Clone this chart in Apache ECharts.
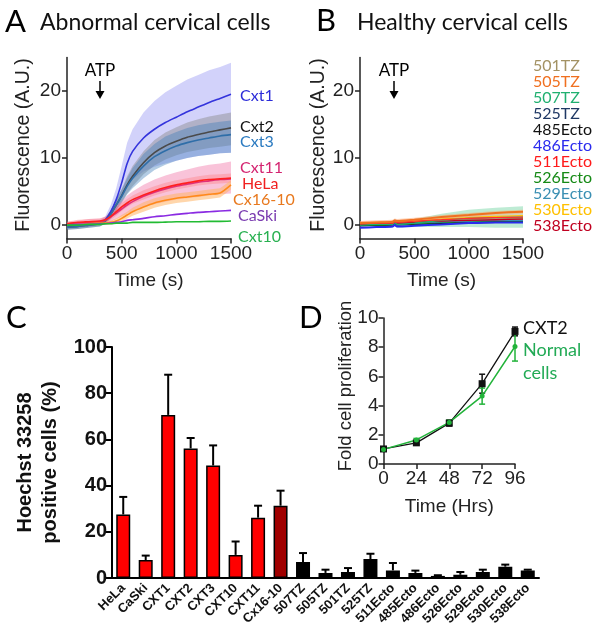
<!DOCTYPE html>
<html><head><meta charset="utf-8">
<script src="https://cdn.jsdelivr.net/npm/echarts@6/dist/echarts.min.js"></script>
<style>html,body{margin:0;padding:0;background:#fff}#c{width:602px;height:636px}</style>
</head><body><div id="c"></div>
<script>
// ---------- Panel A: abnormal cervical cells (time in s) ----------
const timeA = [0,100,200,300,350,400,450,500,550,600,700,800,900,1000,1100,1200,1300,1400,1500];
const cxt1Mean = [-0.2,-0.1,0.1,0.3,0.8,2.0,3.8,6.3,9.2,11.0,13.0,14.3,15.3,16.1,16.9,17.6,18.3,18.9,19.5];
const cxt1Hi   = [0.2,0.3,0.5,0.7,1.3,3.0,5.5,8.8,12.3,14.3,16.8,18.5,19.8,20.8,21.7,22.4,23.1,23.6,24.2];
const cxt1Lo   = [-0.6,-0.5,-0.3,-0.1,0.3,1.0,2.2,3.8,5.5,6.8,8.0,8.7,9.2,9.6,10.0,10.3,10.5,10.7,10.8];
const cxt2Mean = [-0.3,-0.2,0,0.2,0.6,1.6,3.0,4.4,6.0,7.3,9.3,10.8,11.8,12.5,13.1,13.5,13.9,14.2,14.5];
const cxt2Hi   = [0.1,0.2,0.4,0.6,1.0,2.2,3.8,5.4,7.3,8.8,11.0,12.7,13.8,14.6,15.3,15.8,16.2,16.5,16.8];
const cxt2Lo   = [-0.7,-0.6,-0.4,-0.2,0.2,1.0,2.2,3.4,4.7,5.8,7.6,8.9,9.8,10.4,10.9,11.2,11.5,11.7,11.9];
const cxt3Mean = [-0.3,-0.2,0,0.2,0.6,1.6,3.0,4.3,5.8,7.0,8.8,10.2,11.1,11.8,12.3,12.7,13.0,13.3,13.5];
const cxt3Hi   = [0.1,0.2,0.4,0.6,1.0,2.2,3.8,5.3,7.0,8.5,10.6,12.1,13.2,13.9,14.5,14.9,15.2,15.4,15.6];
const cxt3Lo   = [-0.7,-0.6,-0.4,-0.2,0.2,1.0,2.2,3.3,4.6,5.5,7.0,8.2,9.0,9.6,10.0,10.3,10.5,10.7,10.8];
const cxt11Mean = [0.1,0.3,0.4,0.5,0.7,1.2,1.8,2.4,3.0,3.5,4.3,4.9,5.4,5.8,6.1,6.4,6.6,6.8,6.9];
const cxt11Hi   = [0.5,0.7,0.9,1.0,1.3,2.0,2.8,3.6,4.4,5.0,6.0,6.8,7.4,7.9,8.3,8.7,9.0,9.2,9.5];
const cxt11Lo   = [-0.3,-0.1,0,0.1,0.2,0.5,0.9,1.3,1.7,2.1,2.7,3.1,3.5,3.8,4.0,4.2,4.4,4.6,4.7];
const helaMean = [0.2,0.4,0.5,0.6,0.8,1.3,2.0,2.7,3.3,3.8,4.5,5.1,5.6,6.0,6.3,6.6,6.8,6.9,7.0];
const helaHi   = [0.5,0.8,0.9,1.0,1.2,1.8,2.6,3.3,3.9,4.4,5.2,5.8,6.3,6.7,7.0,7.3,7.5,7.6,7.7];
const helaLo   = [-0.1,0,0.1,0.2,0.4,0.8,1.4,2.1,2.7,3.2,3.8,4.4,4.9,5.3,5.6,5.9,6.1,6.2,6.3];
const cx1610Mean = [0,0.1,0.2,0.3,0.3,0.4,0.6,1.0,1.5,2.0,2.7,3.3,3.7,4.0,4.2,4.4,4.6,4.8,6.0];
const cx1610Hi   = [0.3,0.4,0.5,0.6,0.6,0.7,1.0,1.5,2.0,2.6,3.4,4.0,4.4,4.7,4.9,5.1,5.3,5.5,6.7];
const cx1610Lo   = [-0.3,-0.2,-0.1,0,0,0.1,0.2,0.5,1.0,1.4,2.0,2.6,3.0,3.3,3.5,3.7,3.9,4.1,5.3];
const caskiMean = [0,0.1,0.1,0.2,0.2,0.3,0.4,0.5,0.7,0.8,1.0,1.25,1.4,1.6,1.75,1.9,2.0,2.1,2.2];
const cxt10Mean = [0,0,0.1,0.1,0.2,0.2,0.3,0.3,0.3,0.4,0.4,0.4,0.45,0.5,0.5,0.5,0.55,0.55,0.6];
const fluorTicks = [0,10,20];

// ---------- Panel B: healthy cervical cells ----------
const timeB = [0,150,300,320,340,500,750,1000,1250,1500];
const tz505Mean = [0.3,0.4,0.5,0.7,0.6,0.8,1.2,1.5,1.8,2.0];
const tz505Hi   = [0.6,0.7,0.8,1.0,0.9,1.1,1.5,1.8,2.1,2.3];
const tz505Lo   = [0,0.1,0.2,0.4,0.3,0.5,0.9,1.2,1.5,1.7];
const tz507Mean = [0,0.1,0.1,0.4,0.1,0.3,0.7,1.0,1.1,1.2];
const tz507Hi   = [0.3,0.5,0.6,0.9,0.6,0.9,1.7,2.3,2.6,2.8];
const tz507Lo   = [-0.3,-0.3,-0.4,-0.1,-0.4,-0.3,-0.3,-0.3,-0.4,-0.4];
const ecto511Mean = [0.2,0.3,0.3,0.5,0.4,0.6,0.8,1.0,1.1,1.2];
const ecto511Hi   = [0.6,0.7,0.7,0.9,0.8,1.0,1.2,1.4,1.5,1.6];
const ecto511Lo   = [-0.2,-0.1,-0.1,0.1,0,0.2,0.4,0.6,0.7,0.8];
const tz501Mean = [0.2,0.3,0.3,0.5,0.4,0.5,0.7,0.8,0.9,1.0];
const tz525Mean = [-0.1,0,0,0.3,0,0.1,0.2,0.3,0.4,0.4];
const ecto485Mean = [0,0,0.1,0.6,0.1,0.2,0.3,0.4,0.5,0.5];
const ecto486Mean = [-0.4,-0.3,-0.2,0,-0.2,-0.1,0.1,0.3,0.4,0.4];
const ecto526Mean = [0,0,0.1,0.5,0.1,0.2,0.4,0.5,0.6,0.6];
const ecto529Mean = [0.1,0.1,0.2,0.4,0.2,0.3,0.5,0.6,0.7,0.7];
const ecto530Mean = [0.3,0.4,0.4,0.6,0.5,0.6,0.9,1.1,1.3,1.4];
const ecto538Mean = [0.1,0.2,0.2,0.4,0.3,0.4,0.6,0.7,0.8,0.9];

// ---------- Panel C: Hoechst 33258 positive cells (%) ----------
const catsC = ['HeLa','CaSki','CXT1','CXT2','CXT3','CXT10','CXT11','Cx16-10','507TZ','505TZ','501TZ','525TZ','511Ecto','485Ecto','486Ecto','526Ecto','529Ecto','530Ecto','538Ecto'];
const valsC = [27.5,7.8,70.6,56.1,48.7,10.0,26.1,31.3,6.9,2.2,2.6,8.2,3.3,2.2,0.9,1.4,2.6,4.9,3.3];
const errC  = [7.6,1.9,17.4,4.5,8.7,5.8,5.2,6.5,3.9,1.4,1.7,2.3,3.2,1.0,0.3,1.2,1.0,0.9,0.3];
const groupC = ['tumour','tumour','tumour','tumour','tumour','tumour','tumour','line','normal','normal','normal','normal','normal','normal','normal','normal','normal','normal','normal'];

// ---------- Panel D: fold cell proliferation ----------
const hoursD = [0,24,48,72,96];
const cxt2Fold = [1.03,1.45,2.8,5.5,9.08];
const cxt2FoldErr = [0.08,0.1,0.2,0.65,0.3];
const normalFold = [1.0,1.65,2.85,4.65,8.05];
const normalFoldErr = [0.05,0.1,0.15,0.55,1.0];

// ---------------------------------------------------------------------
const AX_FONT = '"Liberation Sans", Arial, sans-serif';
const LBL_FONT = 'Lato, "Open Sans", sans-serif';
const pairs = (t, v) => t.map((x, i) => [x, v[i]]);
const plain = v => String(v);

function band(t, lo, hi, color, opacity, ax) {
  return { type:'custom', xAxisIndex:ax, yAxisIndex:ax, silent:true, z:1,
    data: t.map((x, i) => [x, lo[i], hi[i]]),
    encode:{ x:0, y:[1, 2] },
    renderItem: function (params, api) {
      if (params.dataIndex !== 0) return null;
      const up = t.map((x, i) => api.coord([x, hi[i]]));
      const dn = t.map((x, i) => api.coord([x, lo[i]])).reverse();
      return { type:'polygon', shape:{ points: up.concat(dn) }, style:{ fill:color, opacity:opacity } };
    } };
}
function meanLine(name, t, v, color, ax, w) {
  return { type:'line', name:name, xAxisIndex:ax, yAxisIndex:ax, data:pairs(t, v),
    symbol:'none', smooth:0.25, lineStyle:{color:color, width:w||1.6}, z:3 };
}

function fluorAxes(idx) {
  const x = { type:'value', gridIndex:idx, min:0, max:1500, interval:500,
    name:'Time (s)', nameLocation:'middle', nameGap:33,
    nameTextStyle:{fontFamily:AX_FONT, fontSize:19, color:'#222'},
    axisLine:{onZero:false, lineStyle:{color:'#222', width:1.5}},
    axisTick:{inside:false, length:5, lineStyle:{color:'#222', width:1.5}},
    axisLabel:{fontFamily:AX_FONT, fontSize:19, color:'#222', margin:6, formatter:plain},
    splitLine:{show:false} };
  const y = { type:'value', gridIndex:idx, min:-2, max:25,
    name:'Fluorescence (A.U.)', nameLocation:'middle', nameGap:idx===0?33:30,
    nameTextStyle:{fontFamily:AX_FONT, fontSize:19.5, color:'#222', padding:[0,0,0,6]},
    axisLine:{show:true, onZero:false, lineStyle:{color:'#222', width:1.5}},
    axisTick:{show:true, inside:false, length:5, customValues:fluorTicks, lineStyle:{color:'#222', width:1.5}},
    axisLabel:{fontFamily:AX_FONT, fontSize:19, color:'#222', margin:6, customValues:fluorTicks, formatter:plain},
    splitLine:{show:false} };
  return [x, y];
}
const [xA, yA] = fluorAxes(0);
const [xB, yB] = fluorAxes(1);

const xC = { type:'category', gridIndex:2, data:catsC,
  axisLine:{lineStyle:{color:'#000', width:2}},
  axisTick:{alignWithLabel:true, length:6, lineStyle:{color:'#000', width:1.5}},
  axisLabel:{interval:0, rotate:45, fontFamily:AX_FONT, fontWeight:'bold', fontSize:13, color:'#111', margin:8} };
const yC = { type:'value', gridIndex:2, min:0, max:100, interval:20,
  name:'Hoechst 33258\npositive cells (%)', nameLocation:'middle', nameGap:46,
  nameTextStyle:{fontFamily:AX_FONT, fontWeight:'bold', fontSize:20, color:'#111', lineHeight:25},
  axisLine:{show:true, lineStyle:{color:'#000', width:2}},
  axisTick:{show:true, length:6, lineStyle:{color:'#000', width:2}},
  axisLabel:{fontFamily:AX_FONT, fontWeight:'bold', fontSize:20, color:'#111', margin:5},
  splitLine:{show:false} };

const xD = { type:'value', gridIndex:3, min:0, max:96, interval:24,
  name:'Time (Hrs)', nameLocation:'middle', nameGap:33,
  nameTextStyle:{fontFamily:AX_FONT, fontSize:19, color:'#222'},
  axisLine:{onZero:false, lineStyle:{color:'#222', width:1.5}},
  axisTick:{length:5, lineStyle:{color:'#222', width:1.5}},
  axisLabel:{fontFamily:AX_FONT, fontSize:19, color:'#222', margin:5},
  splitLine:{show:false} };
const yD = { type:'value', gridIndex:3, min:0, max:10, interval:2,
  axisLine:{show:true, lineStyle:{color:'#222', width:1.5}},
  axisTick:{show:true, length:5, lineStyle:{color:'#222', width:1.5}},
  axisLabel:{fontFamily:AX_FONT, fontSize:19, color:'#222', margin:5},
  splitLine:{show:false} };

const barColor = { tumour:'#ff0000', line:'#a00000', normal:'#000000' };

function errBarRender(capOnlyUp, color, lw, cap) {
  return function (params, api) {
    const x = api.value(0), y = api.value(1), e = api.value(2);
    const lo = capOnlyUp ? y : y - e;
    const p0 = api.coord([x, lo]);
    const p1 = api.coord([x, y + e]);
    const children = [
      { type:'line', shape:{x1:p0[0], y1:p0[1], x2:p1[0], y2:p1[1]}, style:{stroke:color, lineWidth:lw} },
      { type:'line', shape:{x1:p1[0]-cap, y1:p1[1], x2:p1[0]+cap, y2:p1[1]}, style:{stroke:color, lineWidth:lw} }
    ];
    if (!capOnlyUp) children.push({ type:'line', shape:{x1:p0[0]-cap, y1:p0[1], x2:p0[0]+cap, y2:p0[1]}, style:{stroke:color, lineWidth:lw} });
    return { type:'group', children };
  };
}

const series = [
  // Panel A bands
  band(timeA, cxt1Lo, cxt1Hi, '#9494f2', 0.42, 0),
  band(timeA, cxt2Lo, cxt2Hi, '#8a8a8a', 0.45, 0),
  band(timeA, cxt3Lo, cxt3Hi, '#3e7db8', 0.40, 0),
  band(timeA, cxt11Lo, cxt11Hi, '#f27aab', 0.45, 0),
  band(timeA, helaLo, helaHi, '#ff6a6a', 0.30, 0),
  band(timeA, cx1610Lo, cx1610Hi, '#ffb466', 0.55, 0),
  meanLine('Cxt1', timeA, cxt1Mean, '#3434dc', 0),
  meanLine('Cxt2', timeA, cxt2Mean, '#4a4a4a', 0),
  meanLine('Cxt3', timeA, cxt3Mean, '#2f6ea8', 0),
  meanLine('Cxt11', timeA, cxt11Mean, '#e0307a', 0),
  meanLine('HeLa', timeA, helaMean, '#ff2020', 0),
  meanLine('Cx16-10', timeA, cx1610Mean, '#ff8a1a', 0),
  meanLine('CaSki', timeA, caskiMean, '#8a2be2', 0),
  meanLine('Cxt10', timeA, cxt10Mean, '#22bb33', 0),
  // Panel B
  band(timeB, tz507Lo, tz507Hi, '#5ccc94', 0.40, 1),
  band(timeB, ecto511Lo, ecto511Hi, '#ff9a90', 0.40, 1),
  band(timeB, tz505Lo, tz505Hi, '#ffa060', 0.45, 1),
  meanLine('501TZ', timeB, tz501Mean, '#a39264', 1, 1.3),
  meanLine('525TZ', timeB, tz525Mean, '#1f3864', 1, 1.3),
  meanLine('485Ecto', timeB, ecto485Mean, '#111111', 1, 1.3),
  meanLine('526Ecto', timeB, ecto526Mean, '#168a16', 1, 1.3),
  meanLine('529Ecto', timeB, ecto529Mean, '#3a8fb3', 1, 1.3),
  meanLine('530Ecto', timeB, ecto530Mean, '#ffc000', 1, 1.3),
  meanLine('538Ecto', timeB, ecto538Mean, '#c00020', 1, 1.3),
  meanLine('507TZ', timeB, tz507Mean, '#20b070', 1, 1.3),
  meanLine('511Ecto', timeB, ecto511Mean, '#ff3030', 1, 1.3),
  meanLine('486Ecto', timeB, ecto486Mean, '#2a2aee', 1, 2),
  meanLine('505TZ', timeB, tz505Mean, '#f07020', 1, 2),
  // Panel C
  { type:'bar', name:'Hoechst', xAxisIndex:2, yAxisIndex:2, barWidth:14,
    data: valsC.map((v, i) => ({ value:v, itemStyle:{ color:barColor[groupC[i]] } })),
    itemStyle:{ borderColor:'#000', borderWidth:1.5 }, z:2 },
  { type:'custom', name:'HoechstErr', xAxisIndex:2, yAxisIndex:2,
    data: valsC.map((v, i) => [i, v, errC[i]]),
    renderItem: errBarRender(true, '#000', 2, 4), z:1 },
  // Panel D
  { type:'custom', name:'CXT2err', xAxisIndex:3, yAxisIndex:3,
    data: hoursD.map((h, i) => [h, cxt2Fold[i], cxt2FoldErr[i]]),
    renderItem: errBarRender(false, '#111', 1.5, 3), z:4 },
  { type:'custom', name:'Normalerr', xAxisIndex:3, yAxisIndex:3,
    data: hoursD.map((h, i) => [h, normalFold[i], normalFoldErr[i]]),
    renderItem: errBarRender(false, '#22b33a', 1.5, 3), z:4 },
  { type:'line', name:'CXT2', xAxisIndex:3, yAxisIndex:3, data:pairs(hoursD, cxt2Fold),
    symbol:'rect', symbolSize:7, lineStyle:{color:'#111', width:1.3}, itemStyle:{color:'#111'}, z:5 },
  { type:'line', name:'Normal cells', xAxisIndex:3, yAxisIndex:3, data:pairs(hoursD, normalFold),
    symbol:'circle', symbolSize:5, lineStyle:{color:'#22b33a', width:1.5}, itemStyle:{color:'#22b33a'}, z:5 }
];

function txt(x, y, text, color, size, opts) {
  return { type:'text', x:x, y:y, silent:true, z:10,
    style:Object.assign({ text:text, fill:color, fontSize:size, fontFamily:LBL_FONT,
      verticalAlign:'middle', align:'left' }, (opts||{})) };
}
function arrow(x, y1, y2) {
  return [
    { type:'line', silent:true, z:10, shape:{x1:x, y1:y1, x2:x, y2:y2-6}, style:{stroke:'#000', lineWidth:1.5} },
    { type:'polygon', silent:true, z:10, shape:{points:[[x-4.5, y2-8],[x+4.5, y2-8],[x, y2]]}, style:{fill:'#000'} }
  ];
}

const labelsA = [
  ['Cxt1', 240, 96, '#2b2bd9'], ['Cxt2', 240, 127, '#111111'], ['Cxt3', 240, 142, '#2a7ac0'],
  ['Cxt11', 240, 168, '#d42470'], ['HeLa', 242, 184, '#f02020'], ['Cx16-10', 233, 200, '#e8791e'],
  ['CaSki', 238, 216, '#7a3bb0'], ['Cxt10', 238, 237, '#28b050']
];
const labelsB = [
  ['501TZ','#a39264'], ['505TZ','#f07020'], ['507TZ','#20b070'], ['525TZ','#1f3864'],
  ['485Ecto','#111111'], ['486Ecto','#2a2aee'], ['511Ecto','#ff1a1a'], ['526Ecto','#168a16'],
  ['529Ecto','#3a8fb3'], ['530Ecto','#ffc000'], ['538Ecto','#c00020']
];

const graphic = [
  txt(5, 22, 'A', '#000', 31),
  txt(40, 23, 'Abnormal cervical cells', '#111', 23),
  txt(316, 21, 'B', '#000', 31),
  txt(357, 23, 'Healthy cervical cells', '#111', 23),
  txt(6, 318, 'C', '#000', 31),
  txt(299, 318, 'D', '#000', 31),
  txt(100, 71, 'ATP', '#000', 17, {align:'center'}),
  txt(394, 71, 'ATP', '#000', 17, {align:'center'}),
  ...arrow(100, 81, 99),
  ...arrow(394, 81, 99),
  ...labelsA.map(l => txt(l[1], l[2], l[0], l[3], 16)),
  ...labelsB.map((l, i) => txt(533, 66 + i * 16, l[0], l[1], 16)),
  txt(523, 328, 'CXT2', '#111', 18),
  txt(523, 350, 'Normal', '#22aa55', 18),
  txt(523, 373, 'cells', '#22aa55', 18),
  { type:'text', x:346, y:386, rotation:Math.PI/2, silent:true, z:10,
    style:{ text:'Fold cell proliferation', fill:'#222', fontSize:18.5, fontFamily:AX_FONT,
      align:'center', verticalAlign:'middle' } }
];

const chart = echarts.init(document.getElementById('c'), null, {renderer:'canvas'});
chart.setOption({
  animation:false,
  backgroundColor:'#ffffff',
  grid:[
    {left:67, top:57.5, width:164, height:181},
    {left:360, top:57.5, width:163, height:181},
    {left:112, top:347, width:427, height:231},
    {left:383.5, top:318, width:131.5, height:146}
  ],
  xAxis:[xA, xB, xC, xD],
  yAxis:[yA, yB, yC, yD],
  series:series,
  graphic:graphic
});
</script></body></html>
